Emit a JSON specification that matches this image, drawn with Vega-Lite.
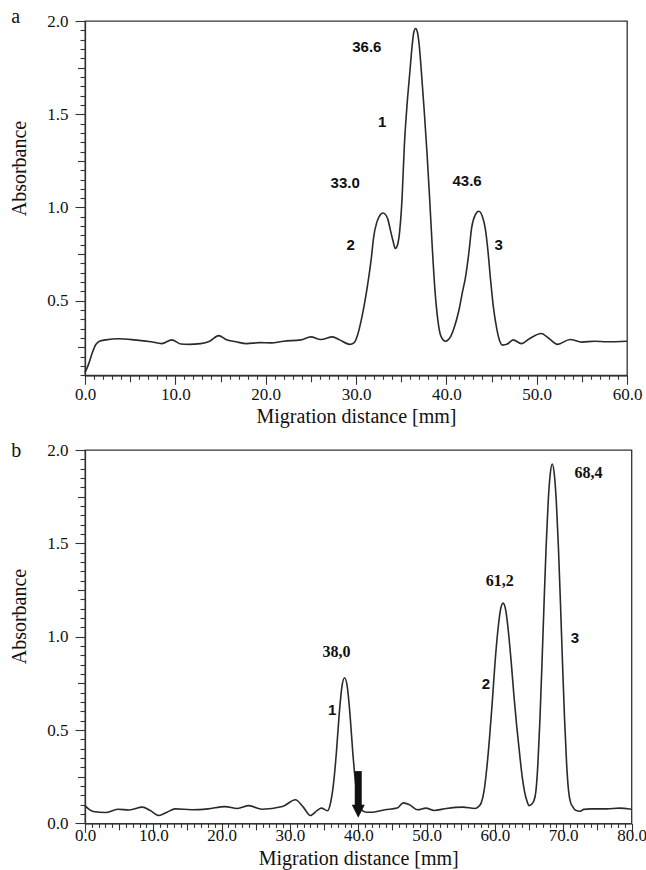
{
  "$schema": "https://vega.github.io/schema/vega-lite/v6.json",
  "background": "white",
  "padding": {"left": 8, "top": 6, "right": 2, "bottom": 2},
  "spacing": 74,
  "bounds": "flush",
  "config": {
    "view": {"stroke": "#333", "strokeWidth": 1.3},
    "axis": {
      "domainColor": "#333", "domainWidth": 1.3,
      "tickColor": "#333", "tickWidth": 1.1, "tickCount": 200,
      "labelFont": "Liberation Serif", "labelFontSize": 17, "labelColor": "#111",
      "titleFont": "Liberation Serif", "titleFontSize": 20, "titleFontWeight": "normal", "titleColor": "#111",
      "grid": false, "labelOverlap": false, "labelBound": false, "labelFlush": false
    },
    "title": {"font": "Liberation Serif", "fontSize": 20, "fontWeight": "normal", "color": "#111", "anchor": "start", "frame": "bounds"}
  },
  "datasets": {
    "scanA": [
      {"d": 0, "a": 0.115}, {"d": 0.4, "a": 0.16}, {"d": 0.8, "a": 0.22}, {"d": 1.2, "a": 0.265}, {"d": 1.6, "a": 0.283},
      {"d": 2.3, "a": 0.29}, {"d": 3.7, "a": 0.296}, {"d": 5.5, "a": 0.29}, {"d": 7.3, "a": 0.28}, {"d": 8.5, "a": 0.27},
      {"d": 9.6, "a": 0.29}, {"d": 10.6, "a": 0.268}, {"d": 11.5, "a": 0.266}, {"d": 12.8, "a": 0.27}, {"d": 13.8, "a": 0.283},
      {"d": 14.8, "a": 0.313}, {"d": 15.6, "a": 0.292}, {"d": 16.7, "a": 0.28}, {"d": 17.9, "a": 0.27}, {"d": 19.3, "a": 0.275},
      {"d": 20.6, "a": 0.274}, {"d": 22, "a": 0.283}, {"d": 23.9, "a": 0.29}, {"d": 25, "a": 0.306}, {"d": 26.1, "a": 0.292},
      {"d": 27.4, "a": 0.306}, {"d": 28.2, "a": 0.29}, {"d": 29.3, "a": 0.266}, {"d": 29.8, "a": 0.275}, {"d": 30.2, "a": 0.32},
      {"d": 30.6, "a": 0.40}, {"d": 31.0, "a": 0.50}, {"d": 31.3, "a": 0.59}, {"d": 31.7, "a": 0.73}, {"d": 31.95, "a": 0.84},
      {"d": 32.3, "a": 0.92}, {"d": 32.55, "a": 0.95}, {"d": 33.0, "a": 0.97}, {"d": 33.5, "a": 0.94}, {"d": 33.8, "a": 0.88},
      {"d": 34.1, "a": 0.82}, {"d": 34.35, "a": 0.78}, {"d": 34.6, "a": 0.80}, {"d": 34.85, "a": 0.88}, {"d": 35.1, "a": 1.05},
      {"d": 35.35, "a": 1.33}, {"d": 35.65, "a": 1.55}, {"d": 35.95, "a": 1.72}, {"d": 36.2, "a": 1.86}, {"d": 36.4, "a": 1.94},
      {"d": 36.6, "a": 1.96}, {"d": 36.8, "a": 1.94}, {"d": 37.0, "a": 1.87}, {"d": 37.25, "a": 1.72}, {"d": 37.55, "a": 1.52},
      {"d": 37.85, "a": 1.30}, {"d": 38.15, "a": 1.05}, {"d": 38.45, "a": 0.78}, {"d": 38.75, "a": 0.55}, {"d": 39.05, "a": 0.40},
      {"d": 39.4, "a": 0.31}, {"d": 39.9, "a": 0.283}, {"d": 40.2, "a": 0.29}, {"d": 40.5, "a": 0.31}, {"d": 40.9, "a": 0.36},
      {"d": 41.4, "a": 0.45}, {"d": 41.8, "a": 0.55}, {"d": 42.1, "a": 0.62}, {"d": 42.5, "a": 0.76}, {"d": 42.8, "a": 0.89},
      {"d": 43.2, "a": 0.96}, {"d": 43.6, "a": 0.98}, {"d": 44.0, "a": 0.95}, {"d": 44.3, "a": 0.89}, {"d": 44.6, "a": 0.77},
      {"d": 44.9, "a": 0.61}, {"d": 45.2, "a": 0.47}, {"d": 45.6, "a": 0.345}, {"d": 45.9, "a": 0.285}, {"d": 46.2, "a": 0.262},
      {"d": 46.7, "a": 0.266}, {"d": 47.4, "a": 0.29}, {"d": 48.3, "a": 0.27}, {"d": 49.2, "a": 0.296}, {"d": 50.5, "a": 0.324},
      {"d": 51.4, "a": 0.296}, {"d": 52.3, "a": 0.266}, {"d": 53.7, "a": 0.292}, {"d": 55, "a": 0.278}, {"d": 56.4, "a": 0.283},
      {"d": 57.8, "a": 0.28}, {"d": 60, "a": 0.283}
    ],
    "notesA": [
      {"d": 31.2, "a": 1.86, "t": "36.6"},
      {"d": 32.9, "a": 1.46, "t": "1"},
      {"d": 28.8, "a": 1.13, "t": "33.0"},
      {"d": 42.3, "a": 1.14, "t": "43.6"},
      {"d": 29.4, "a": 0.80, "t": "2"},
      {"d": 45.8, "a": 0.80, "t": "3"}
    ],
    "scanB": [
      {"d": 0, "a": 0.095}, {"d": 0.6, "a": 0.075}, {"d": 1.2, "a": 0.064}, {"d": 3, "a": 0.058}, {"d": 4.8, "a": 0.076},
      {"d": 6.5, "a": 0.072}, {"d": 8.4, "a": 0.087}, {"d": 9.5, "a": 0.07}, {"d": 10.8, "a": 0.042}, {"d": 12, "a": 0.06},
      {"d": 13.2, "a": 0.078}, {"d": 15.6, "a": 0.073}, {"d": 18, "a": 0.078}, {"d": 20.5, "a": 0.09}, {"d": 22.3, "a": 0.08},
      {"d": 24, "a": 0.095}, {"d": 25.9, "a": 0.076}, {"d": 28.9, "a": 0.09}, {"d": 30.8, "a": 0.127}, {"d": 31.9, "a": 0.09},
      {"d": 33, "a": 0.042}, {"d": 34, "a": 0.07}, {"d": 34.6, "a": 0.082}, {"d": 35.5, "a": 0.068}, {"d": 36.0, "a": 0.12},
      {"d": 36.4, "a": 0.22}, {"d": 36.8, "a": 0.38}, {"d": 37.2, "a": 0.58}, {"d": 37.6, "a": 0.73}, {"d": 38.0, "a": 0.78},
      {"d": 38.4, "a": 0.73}, {"d": 38.8, "a": 0.58}, {"d": 39.2, "a": 0.38}, {"d": 39.6, "a": 0.22}, {"d": 40.0, "a": 0.12},
      {"d": 40.4, "a": 0.075}, {"d": 41.2, "a": 0.06}, {"d": 42.1, "a": 0.06}, {"d": 43.9, "a": 0.073}, {"d": 45.7, "a": 0.082},
      {"d": 46.6, "a": 0.11}, {"d": 47.5, "a": 0.10}, {"d": 48.7, "a": 0.073}, {"d": 49.9, "a": 0.082}, {"d": 51.1, "a": 0.069},
      {"d": 52.9, "a": 0.08}, {"d": 55.3, "a": 0.087}, {"d": 57.1, "a": 0.08}, {"d": 57.6, "a": 0.09}, {"d": 58.0, "a": 0.11},
      {"d": 58.4, "a": 0.17}, {"d": 58.8, "a": 0.29}, {"d": 59.2, "a": 0.45}, {"d": 59.6, "a": 0.64}, {"d": 60.0, "a": 0.85},
      {"d": 60.4, "a": 1.02}, {"d": 60.8, "a": 1.14}, {"d": 61.2, "a": 1.18}, {"d": 61.6, "a": 1.14}, {"d": 62.0, "a": 1.02},
      {"d": 62.4, "a": 0.86}, {"d": 62.8, "a": 0.68}, {"d": 63.2, "a": 0.52}, {"d": 63.6, "a": 0.38}, {"d": 64.0, "a": 0.25},
      {"d": 64.4, "a": 0.16}, {"d": 64.7, "a": 0.12}, {"d": 65.0, "a": 0.095}, {"d": 65.3, "a": 0.10}, {"d": 65.7, "a": 0.12},
      {"d": 66.0, "a": 0.17}, {"d": 66.3, "a": 0.32}, {"d": 66.6, "a": 0.56}, {"d": 66.9, "a": 0.86}, {"d": 67.2, "a": 1.18},
      {"d": 67.5, "a": 1.48}, {"d": 67.8, "a": 1.72}, {"d": 68.1, "a": 1.87}, {"d": 68.4, "a": 1.925}, {"d": 68.7, "a": 1.87},
      {"d": 69.0, "a": 1.72}, {"d": 69.3, "a": 1.48}, {"d": 69.6, "a": 1.18}, {"d": 69.9, "a": 0.86}, {"d": 70.2, "a": 0.56},
      {"d": 70.5, "a": 0.32}, {"d": 70.8, "a": 0.17}, {"d": 71.1, "a": 0.11}, {"d": 71.4, "a": 0.09}, {"d": 71.8, "a": 0.07},
      {"d": 72.5, "a": 0.065}, {"d": 73.0, "a": 0.075}, {"d": 74.0, "a": 0.078}, {"d": 76.4, "a": 0.078}, {"d": 78.2, "a": 0.082},
      {"d": 80, "a": 0.076}
    ],
    "peaksB": [
      {"d": 36.8, "a": 0.92, "t": "38,0"},
      {"d": 60.7, "a": 1.30, "t": "61,2"},
      {"d": 73.7, "a": 1.877, "t": "68,4"}
    ],
    "numbersB": [
      {"d": 36.2, "a": 0.61, "t": "1"},
      {"d": 58.7, "a": 0.745, "t": "2"},
      {"d": 71.7, "a": 0.995, "t": "3"}
    ],
    "arrowB": [{"d": 40, "a": 0.28, "a2": 0.095}],
    "arrowHeadB": [{"d": 40, "a": 0.065}]
  },
  "vconcat": [
    {
      "width": 542,
      "height": 354.3,
      "title": {"text": "a", "offset": -15, "dx": 2.3},
      "layer": [
        {
          "data": {"name": "scanA"},
          "mark": {"type": "line", "interpolate": "monotone", "stroke": "#2a2a2a", "strokeWidth": 1.6},
          "encoding": {
            "x": {
              "field": "d", "type": "quantitative",
              "scale": {"domain": [0, 60], "nice": false, "zero": false},
              "axis": {
                "title": "Migration distance [mm]",
                "tickCount": 200,
                "values": [0,1,2,3,4,5,6,7,8,9,10,11,12,13,14,15,16,17,18,19,20,21,22,23,24,25,26,27,28,29,30,31,32,33,34,35,36,37,38,39,40,41,42,43,44,45,46,47,48,49,50,51,52,53,54,55,56,57,58,59,60],
                "tickSize": {"expr": "datum.value % 10 === 0 ? 9 : (datum.value % 5 === 0 ? 6.5 : 4)"},
                "labelExpr": "datum.value % 10 === 0 ? format(datum.value, '.1f') : ''",
                "labelPadding": 2,
                "titleY": 47,
                "titleBaseline": "alphabetic"
              }
            },
            "y": {
              "field": "a", "type": "quantitative",
              "scale": {"domain": [0.1, 2.0], "nice": false, "zero": false},
              "axis": {
                "title": "Absorbance",
                "tickCount": 200,
                "values": [0.1,0.15,0.2,0.25,0.3,0.35,0.4,0.45,0.5,0.55,0.6,0.65,0.7,0.75,0.8,0.85,0.9,0.95,1.0,1.05,1.1,1.15,1.2,1.25,1.3,1.35,1.4,1.45,1.5,1.55,1.6,1.65,1.7,1.75,1.8,1.85,1.9,1.95,2.0],
                "tickSize": {"expr": "abs(datum.value * 2 - round(datum.value * 2)) < 0.001 ? 10 : (abs(datum.value * 4 - round(datum.value * 4)) < 0.001 ? 7.5 : 5)"},
                "labelExpr": "abs(datum.value * 2 - round(datum.value * 2)) < 0.001 ? format(datum.value, '.1f') : ''",
                "labelPadding": 7,
                "titleX": -60,
                "titleY": 147,
                "titleBaseline": "alphabetic"
              }
            }
          }
        },
        {
          "data": {"name": "notesA"},
          "mark": {"type": "text", "font": "Liberation Sans", "fontWeight": "bold", "fontSize": 15, "color": "#111"},
          "encoding": {
            "x": {"field": "d", "type": "quantitative"},
            "y": {"field": "a", "type": "quantitative"},
            "text": {"field": "t"}
          }
        }
      ]
    },
    {
      "width": 546.5,
      "height": 373.4,
      "title": {"text": "b", "offset": -19.7, "dx": 2.3},
      "layer": [
        {
          "data": {"name": "scanB"},
          "mark": {"type": "line", "interpolate": "monotone", "stroke": "#2a2a2a", "strokeWidth": 1.6},
          "encoding": {
            "x": {
              "field": "d", "type": "quantitative",
              "scale": {"domain": [0, 80], "nice": false, "zero": false},
              "axis": {
                "title": "Migration distance [mm]",
                "tickCount": 200,
                "values": [0,1,2,3,4,5,6,7,8,9,10,11,12,13,14,15,16,17,18,19,20,21,22,23,24,25,26,27,28,29,30,31,32,33,34,35,36,37,38,39,40,41,42,43,44,45,46,47,48,49,50,51,52,53,54,55,56,57,58,59,60,61,62,63,64,65,66,67,68,69,70,71,72,73,74,75,76,77,78,79,80],
                "tickSize": {"expr": "datum.value % 10 === 0 ? 9 : (datum.value % 5 === 0 ? 6.5 : 4)"},
                "labelExpr": "datum.value % 10 === 0 ? format(datum.value, '.1f') : ''",
                "labelPadding": -4.5,
                "titleY": 41,
                "titleBaseline": "alphabetic"
              }
            },
            "y": {
              "field": "a", "type": "quantitative",
              "scale": {"domain": [0, 2.0], "nice": false, "zero": false},
              "axis": {
                "title": "Absorbance",
                "tickCount": 200,
                "values": [0,0.05,0.1,0.15,0.2,0.25,0.3,0.35,0.4,0.45,0.5,0.55,0.6,0.65,0.7,0.75,0.8,0.85,0.9,0.95,1.0,1.05,1.1,1.15,1.2,1.25,1.3,1.35,1.4,1.45,1.5,1.55,1.6,1.65,1.7,1.75,1.8,1.85,1.9,1.95,2.0],
                "tickSize": {"expr": "abs(datum.value * 2 - round(datum.value * 2)) < 0.001 ? 10 : (abs(datum.value * 4 - round(datum.value * 4)) < 0.001 ? 7.5 : 5)"},
                "labelExpr": "abs(datum.value * 2 - round(datum.value * 2)) < 0.001 ? format(datum.value, '.1f') : ''",
                "labelPadding": 7,
                "titleX": -60,
                "titleY": 166,
                "titleBaseline": "alphabetic"
              }
            }
          }
        },
        {
          "data": {"name": "arrowB"},
          "mark": {"type": "rule", "strokeWidth": 7, "color": "#111", "strokeCap": "butt"},
          "encoding": {
            "x": {"field": "d", "type": "quantitative"},
            "y": {"field": "a", "type": "quantitative"},
            "y2": {"field": "a2"}
          }
        },
        {
          "data": {"name": "arrowHeadB"},
          "mark": {"type": "point", "shape": "M-1,-1L1,-1L0,1Z", "filled": true, "size": 169, "color": "#111", "opacity": 1},
          "encoding": {
            "x": {"field": "d", "type": "quantitative"},
            "y": {"field": "a", "type": "quantitative"}
          }
        },
        {
          "data": {"name": "peaksB"},
          "mark": {"type": "text", "font": "Liberation Serif", "fontWeight": "bold", "fontSize": 16, "color": "#111"},
          "encoding": {
            "x": {"field": "d", "type": "quantitative"},
            "y": {"field": "a", "type": "quantitative"},
            "text": {"field": "t"}
          }
        },
        {
          "data": {"name": "numbersB"},
          "mark": {"type": "text", "font": "Liberation Sans", "fontWeight": "bold", "fontSize": 15, "color": "#111"},
          "encoding": {
            "x": {"field": "d", "type": "quantitative"},
            "y": {"field": "a", "type": "quantitative"},
            "text": {"field": "t"}
          }
        }
      ]
    }
  ]
}
